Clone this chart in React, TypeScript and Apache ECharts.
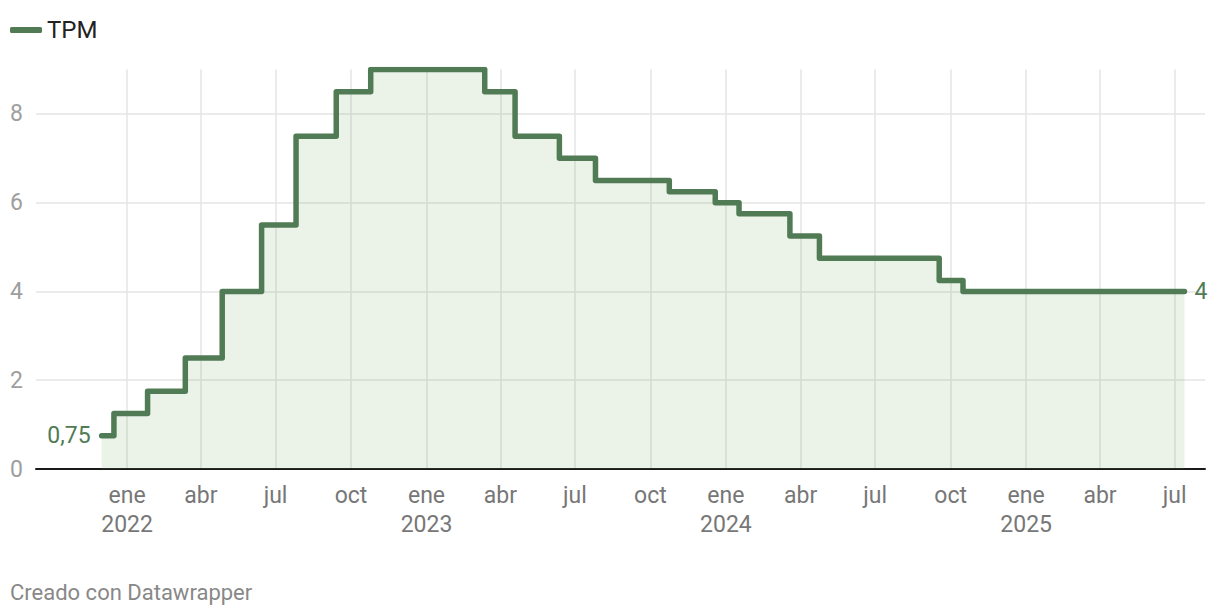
import React, { useEffect, useRef } from "react";
import * as echarts from "echarts";

// Policy rate (TPM) change dates and new values
const changeDates: string[] = [
  "2021-12-01", "2021-12-16", "2022-01-26", "2022-03-13", "2022-04-27",
  "2022-06-14", "2022-07-26", "2022-09-13", "2022-10-25", "2023-03-13",
  "2023-04-19", "2023-06-12", "2023-07-26", "2023-10-24", "2023-12-19",
  "2024-01-17", "2024-03-19", "2024-04-24", "2024-09-17", "2024-10-16",
  "2025-07-13",
];
const tpmValues: number[] = [
  0.75, 1.25, 1.75, 2.5, 4,
  5.5, 7.5, 8.5, 9, 8.5,
  7.5, 7, 6.5, 6.25, 6,
  5.75, 5.25, 4.75, 4.25, 4,
  4,
];
const firstLabel = "0,75";
const lastLabel = "4";

// Axis ticks
const quarterTicks: string[] = [
  "2022-01-01", "2022-04-01", "2022-07-01", "2022-10-01",
  "2023-01-01", "2023-04-01", "2023-07-01", "2023-10-01",
  "2024-01-01", "2024-04-01", "2024-07-01", "2024-10-01",
  "2025-01-01", "2025-04-01", "2025-07-01",
];
const monthNames: string[] = ["ene", "feb", "mar", "abr", "may", "jun", "jul", "ago", "sep", "oct", "nov", "dic"];
const yTicks: number[] = [0, 2, 4, 6, 8];
const xMin = "2021-09-12";
const xMax = "2025-08-07";
const yMax = 9;

const toTs = (s: string) => {
  const [y, m, d] = s.split("-").map(Number);
  return Date.UTC(y, m - 1, d);
};

const GREEN = "#517b55";
const FONT = "Roboto, 'Noto Sans', sans-serif";

export default function App() {
  const ref = useRef<HTMLDivElement>(null);
  useEffect(() => {
    document.body.style.margin = "0";
    if (!ref.current) return;
    const chart = echarts.init(ref.current, undefined, { renderer: "svg" });
    const n = changeDates.length;
    const data = changeDates.map((d, i) => {
      const item: any = { value: [toTs(d), tpmValues[i]] };
      if (i === 0) {
        item.label = { show: true, position: "left", distance: 11, formatter: firstLabel };
      } else if (i === n - 1) {
        item.label = { show: true, position: "right", distance: 10, formatter: lastLabel };
      }
      return item;
    });
    const xTickVals = quarterTicks.map(toTs);
    chart.setOption({
      animation: false,
      textStyle: { fontFamily: FONT },
      legend: {
        show: true,
        left: 10,
        top: 18,
        padding: 0,
        icon: "roundRect",
        itemWidth: 32,
        itemHeight: 6,
        textStyle: { fontSize: 24, color: "#222", fontFamily: FONT },
        data: [{ name: "TPM", itemStyle: { color: GREEN } }],
      },
      grid: { left: 36, right: 15, top: 69.6, bottom: 147, containLabel: false },
      xAxis: {
        type: "value",
        min: toTs(xMin),
        max: toTs(xMax),
        axisLine: { show: true, onZero: false, lineStyle: { color: "#1a1a1a", width: 2 } },
        axisTick: { show: false, customValues: xTickVals },
        axisLabel: {
          customValues: xTickVals,
          margin: 12,
          fontSize: 23,
          lineHeight: 29,
          color: "#777",
          fontFamily: FONT,
          hideOverlap: false,
          formatter: (v: number) => {
            const dt = new Date(v);
            const m = dt.getUTCMonth();
            return m === 0 ? `${monthNames[m]}\n${dt.getUTCFullYear()}` : monthNames[m];
          },
        },
        splitLine: { show: true, lineStyle: { color: "#e4e4e4", width: 1.5 } },
      },
      yAxis: {
        type: "value",
        min: 0,
        max: yMax,
        axisLine: { show: false },
        axisTick: { show: false, customValues: yTicks },
        axisLabel: {
          customValues: yTicks,
          margin: 13,
          fontSize: 23,
          color: "#9e9e9e",
          fontFamily: FONT,
        },
        splitLine: { show: true, lineStyle: { color: "#e4e4e4", width: 1.5 } },
      },
      series: [
        {
          name: "TPM",
          type: "line",
          step: "end",
          data,
          symbol: "circle",
          symbolSize: 0,
          showSymbol: true,
          showAllSymbol: true,
          itemStyle: { color: GREEN },
          lineStyle: { color: GREEN, width: 5.5, cap: "round", join: "round" },
          areaStyle: { color: "rgba(110,165,90,0.2)" },
          label: { show: false, color: GREEN, fontSize: 23, fontFamily: FONT },
          z: 3,
        },
      ],
      graphic: [
        {
          type: "text",
          left: 10,
          top: 581,
          style: { text: "Creado con Datawrapper", fontSize: 22, fill: "#888", fontFamily: FONT },
        },
      ],
    });
    return () => chart.dispose();
  }, []);
  return <div ref={ref} style={{ width: 1220, height: 616 }} />;
}
